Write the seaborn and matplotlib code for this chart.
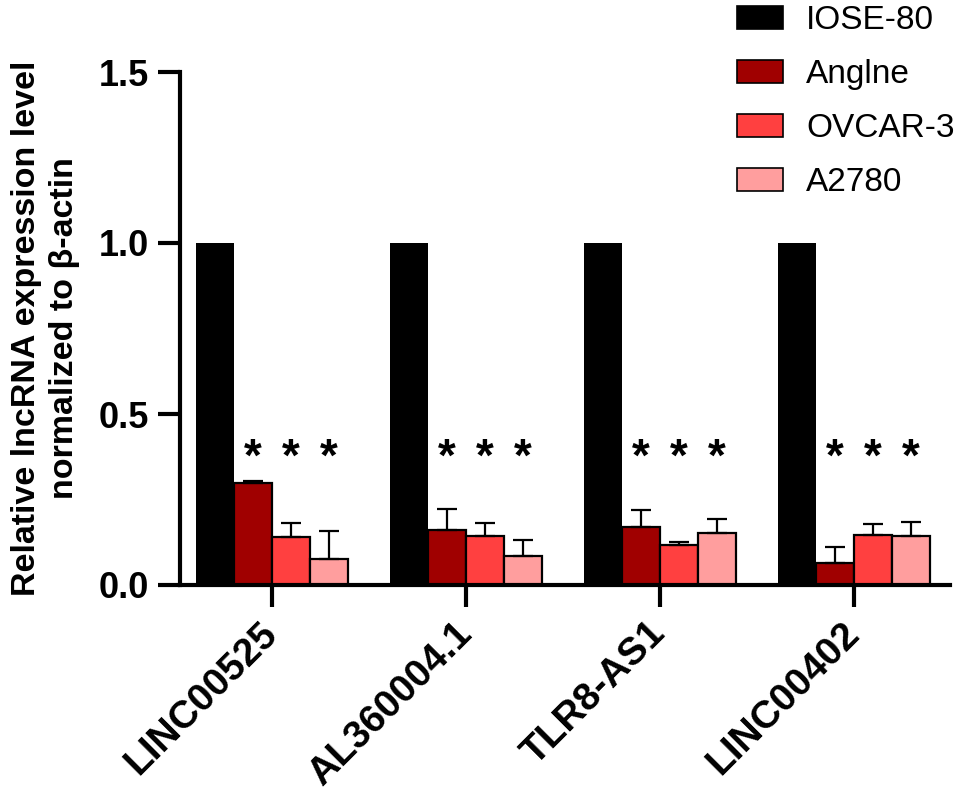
import matplotlib
matplotlib.use("Agg")
import matplotlib.pyplot as plt
import seaborn as sns
import pandas as pd
import numpy as np
from matplotlib.patches import Patch

genes = ["LINC00525", "AL360004.1", "TLR8-AS1", "LINC00402"]
cells = ["IOSE-80", "Angine", "OVCAR-3", "A2780"]
legend_labels = ["IOSE-80", "Anglne", "OVCAR-3", "A2780"]
iose80 = [1.0, 1.0, 1.0, 1.0]
angine = [0.298, 0.161, 0.170, 0.064]
ovcar3 = [0.140, 0.143, 0.117, 0.146]
a2780 = [0.076, 0.085, 0.152, 0.143]
iose80_err = [0.0, 0.0, 0.0, 0.0]
angine_err = [0.006, 0.061, 0.049, 0.047]
ovcar3_err = [0.041, 0.038, 0.009, 0.032]
a2780_err = [0.082, 0.047, 0.041, 0.041]
star_y = 0.37
colors = ["#000000", "#A00000", "#FF4040", "#FF9E9E"]

values = [iose80, angine, ovcar3, a2780]
errors = [iose80_err, angine_err, ovcar3_err, a2780_err]
rows = []
for c, vals in zip(cells, values):
    for g, v in zip(genes, vals):
        rows.append({"gene": g, "cell": c, "value": v})
df = pd.DataFrame(rows)

sns.set_style("ticks", {"axes.edgecolor": "black", "text.color": "black",
                        "xtick.color": "black", "ytick.color": "black",
                        "axes.labelcolor": "black"})
plt.rcParams["font.family"] = ["Liberation Sans", "DejaVu Sans"]

fig = plt.figure(figsize=(9.56, 7.97), dpi=100)
ax = fig.add_axes([180/956, 1-585/797, (950-180)/956, (585-72)/797])

sns.barplot(data=df, x="gene", y="value", hue="cell", order=genes,
            hue_order=cells, palette=colors, saturation=1, width=0.78,
            errorbar=None, edgecolor="black", linewidth=1.6, legend=False,
            ax=ax)

bar_conts = list(ax.containers)
for i, cont in enumerate(bar_conts):
    xs = [p.get_x() + p.get_width()/2 for p in cont.patches]
    hs = [p.get_height() for p in cont.patches]
    if i == 0:
        for p in cont.patches:
            p.set_linewidth(0)
        continue
    ax.errorbar(xs, hs, yerr=[np.zeros(len(hs)), errors[i]], fmt="none",
                ecolor="black", elinewidth=1.6, capsize=7, capthick=1.6,
                zorder=1)
    for x in xs:
        ax.text(x, star_y, "*", ha="center", va="center", fontsize=33,
                fontweight="bold", color="black")

ax.set_ylim(0, 1.5)
ax.set_xlim(-0.474, 3.495)
ax.set_yticks([0.0, 0.5, 1.0, 1.5])
ax.set_yticklabels(["0.0", "0.5", "1.0", "1.5"], fontsize=26, fontweight="bold")
ax.set_xticks(range(len(genes)))
ax.set_xticklabels(genes, rotation=45, ha="right", va="center",
                   rotation_mode="anchor", fontsize=28, fontweight="bold")
ax.set_xlabel("")
ax.set_ylabel("Relative lncRNA expression level\nnormalized to β-actin",
              fontsize=24.5, fontweight="bold", labelpad=13, linespacing=1.3)

for s in ["top", "right"]:
    ax.spines[s].set_visible(False)
for s in ["left", "bottom"]:
    ax.spines[s].set_linewidth(3)
ax.tick_params(axis="y", length=16, width=3, pad=6.5)
ax.tick_params(axis="x", length=16, width=3, pad=15)

handles = [Patch(facecolor=c, edgecolor="black", linewidth=1.2) for c in colors]
fig.legend(handles, legend_labels, loc="upper left",
           bbox_to_anchor=(737/956, 1-5/797), frameon=False, fontsize=24,
           handlelength=1.38, handleheight=0.7, handletextpad=0.7,
           labelspacing=0.69, borderpad=0, borderaxespad=0)

fig.savefig("out.png", dpi=100)
